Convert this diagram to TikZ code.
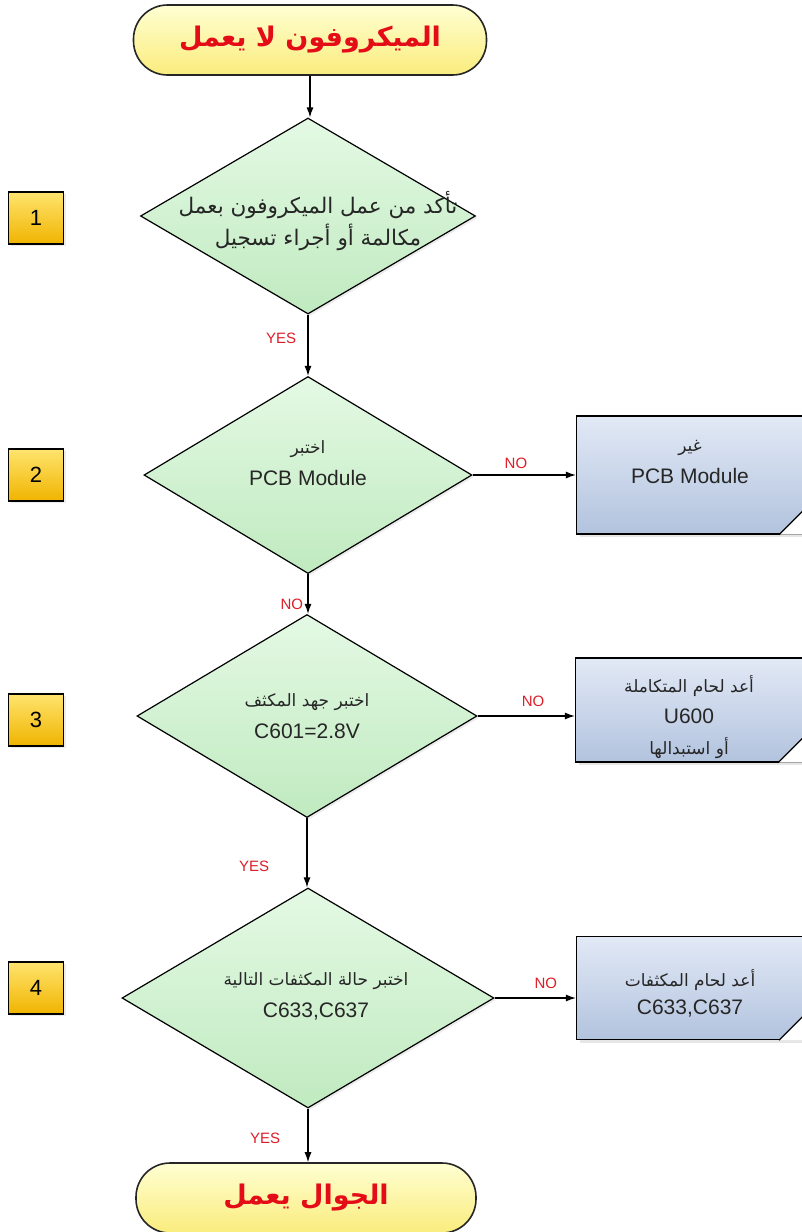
\documentclass[tikz,border=0pt]{standalone}
\usepackage{fontspec}
\setmainfont{Liberation Sans}
\newfontfamily\arabicfont[Script=Arabic]{DejaVu Sans}
\TeXXeTstate=1
\usetikzlibrary{shapes.geometric,arrows.meta,shadows}

\definecolor{termtop}{RGB}{255,255,210}
\definecolor{termbot}{RGB}{250,236,125}
\definecolor{decA}{RGB}{228,249,228}
\definecolor{decB}{RGB}{192,234,192}
\definecolor{boxA}{RGB}{226,233,246}
\definecolor{boxB}{RGB}{178,195,222}
\definecolor{numA}{RGB}{255,228,110}
\definecolor{numB}{RGB}{240,180,0}
\definecolor{lblred}{RGB}{220,30,40}
\definecolor{titlered}{RGB}{228,12,22}

\newcommand{\artxt}[1]{{\arabicfont\fontsize{17}{22}\selectfont\beginR #1\endR}}
\newcommand{\arbig}[1]{{\arabicfont\fontsize{21.5}{26}\selectfont\beginR #1\endR}}
\newcommand{\artitle}[1]{{\arabicfont\bfseries\beginR #1\endR}}

\tikzset{
  term/.style={draw=black!85, line width=1.6pt, rounded corners=34pt,
    top color=termtop, bottom color=termbot, minimum height=70pt,
    font=\fontsize{27}{30}\selectfont, text=titlered},
  dec/.style={diamond, draw, line width=1.2pt, inner sep=0pt,
    top color=decA, bottom color=decB,
    drop shadow={shadow xshift=2pt, shadow yshift=-2pt, opacity=0.15}},
  dectext/.style={align=center, font=\fontsize{21}{32}\selectfont, text=black!85},
  act/.style={draw, line width=1.2pt, minimum width=227pt,
    top color=boxA, bottom color=boxB,
    drop shadow={shadow xshift=3pt, shadow yshift=-3pt, opacity=0.2}},
  num/.style={draw, line width=1.5pt, minimum width=55pt, minimum height=52pt,
    top color=numA, bottom color=numB, font=\fontsize{22}{22}\selectfont,
    drop shadow={shadow xshift=2pt, shadow yshift=-2pt, opacity=0.15}},
  link/.style={-{Latex[length=10pt,width=7pt]}, line width=1.2pt},
  lbl/.style={text=lblred, font=\fontsize{15}{15}\selectfont}
}

\begin{document}
\begin{tikzpicture}[x=1pt,y=-1pt]
  \useasboundingbox (0,0) rectangle (802,1232);
  \clip (0,0) rectangle (802,1232);

  % start / end
  \node[term, minimum width=353pt] (start) at (310,40) {\artitle{الميكروفون لا يعمل}};
  \node[term, minimum width=340pt] (stop) at (306,1198) {\artitle{الجوال يعمل}};

  % decisions
  \node[dec, minimum width=335pt, minimum height=196pt] (d1) at (308,216) {};
  \node[dectext] (d1t) at (318,221) {\arbig{تأكد من عمل الميكروفون بعمل}\\\arbig{مكالمة أو أجراء تسجيل}};
  \node[dec, minimum width=328pt, minimum height=197pt] (d2) at (308,475) {};
  \node[dectext] (d2t) at (308,463) {\artxt{اختبر}\\PCB Module};
  \node[dec, minimum width=340pt, minimum height=203pt] (d3) at (307,716) {};
  \node[dectext] (d3t) at (307,716) {\artxt{اختبر جهد المكثف}\\C601=2.8V};
  \node[dec, minimum width=372pt, minimum height=220pt] (d4) at (308,998) {};
  \node[dectext] (d4t) at (316,996) {\artxt{اختبر حالة المكثفات التالية}\\C633,C637};

  % actions
  \node[act, minimum height=118pt] (b2) at (690,475) {};
  \node[dectext] (b2t) at (690,462) {\artxt{غير}\\PCB Module};
  \node[act, minimum height=104pt] (b3) at (689,710) {};
  \node[dectext, font=\fontsize{21}{31}\selectfont] (b3t) at (689,717) {\artxt{أعد لحام المتكاملة}\\U600\\\artxt{أو استبدالها}};
  \node[act, minimum height=103pt] (b4) at (690,988) {};
  \node[dectext, font=\fontsize{21}{28}\selectfont] (b4t) at (690,993) {\artxt{أعد لحام المكثفات}\\C633,C637};

  \foreach \b in {b2,b3,b4} {
    \fill[white] ([xshift=-25pt]\b.south east) -- (\b.south east) -- ([yshift=25pt]\b.south east) -- cycle;
    \draw[line width=1.2pt] ([xshift=-25pt]\b.south east) -- ([yshift=25pt]\b.south east);
  }

  % step numbers
  \node[num] (n1) at (36,218) {1};
  \node[num] (n2) at (36,475) {2};
  \node[num] (n3) at (36,720) {3};
  \node[num] (n4) at (36,988) {4};

  % connectors
  \draw[link] (start) -- (start.south |- d1.north);
  \draw[link] (d1) -- node[lbl, pos=0.38, left=8pt] {YES} (d2);
  \draw[link] (d2) -- node[lbl, pos=0.75, left=1pt] {NO} (d2.south |- d3.north);
  \draw[link] (d3.south) -- node[lbl, pos=0.69, left=34pt] {YES} (d3.south |- d4.north);
  \draw[link] (d4.south) -- node[lbl, pos=0.55, left=24pt] {YES} (d4.south |- stop.north);

  \draw[link] (d2.east) -- node[lbl, pos=0.42, above=2pt] {NO} (d2.east -| b2.west);
  \draw[link] (d3.east) -- node[lbl, pos=0.57, above=5pt] {NO} (d3.east -| b3.west);
  \draw[link] (d4.east) -- node[lbl, pos=0.63, above=5pt] {NO} (d4.east -| b4.west);

\end{tikzpicture}
\end{document}
